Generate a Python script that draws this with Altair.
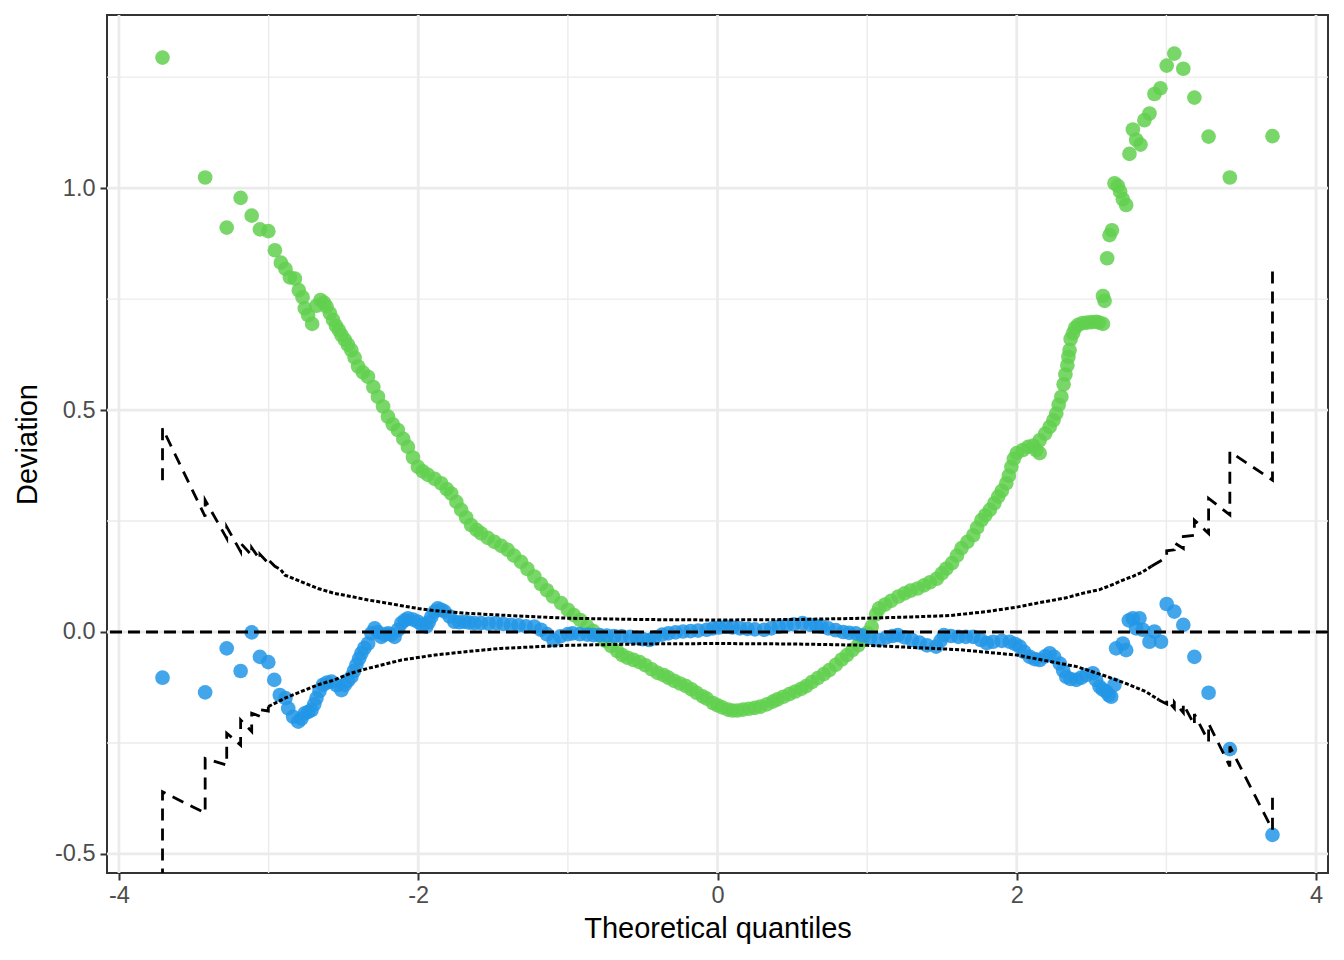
import altair as alt
import pandas as pd

# ---------------- data ----------------
green_x = [-3.709, -3.424, -3.28, -3.187, -3.113, -3.058, -3.002, -2.958, -2.918, -2.887,
           -2.858, -2.824, -2.798, -2.773, -2.758, -2.736, -2.709, -2.68, -2.653, -2.63,
           -2.613, -2.59, -2.569, -2.55, -2.53, -2.513, -2.49, -2.47, -2.447, -2.425,
           -2.402, -2.37, -2.336, -2.30, -2.269, -2.235, -2.202, -2.17, -2.136, -2.10,
           -2.069, -2.035, -2.002, -1.97, -1.935, -1.89, -1.847, -1.81, -1.78, -1.745,
           -1.713, -1.68, -1.647, -1.61, -1.58, -1.535, -1.491, -1.445, -1.402, -1.36,
           -1.313, -1.27, -1.224, -1.18, -1.14, -1.10, -1.045, -1.0, -0.96, -0.917,
           -0.87, -0.83, -0.789, -0.75, -0.71, -0.67, -0.636, -0.60, -0.56, -0.52,
           -0.481, -0.44, -0.40, -0.36, -0.328, -0.29, -0.25, -0.21, -0.174, -0.14,
           -0.10, -0.072, -0.03, 0.0, 0.031, 0.07, 0.10, 0.133, 0.17, 0.21,
           0.25, 0.287, 0.33, 0.37, 0.40, 0.44, 0.48, 0.52, 0.56, 0.593,
           0.63, 0.67, 0.71, 0.747, 0.79, 0.83, 0.865, 0.901, 0.94, 0.97,
           1.0, 1.03, 1.06, 1.08, 1.12, 1.16, 1.209, 1.25, 1.29, 1.337,
           1.38, 1.42, 1.465, 1.50, 1.53, 1.567, 1.60, 1.631, 1.67, 1.709,
           1.735, 1.764, 1.79, 1.82, 1.85, 1.876, 1.90, 1.93, 1.947, 1.964,
           1.98, 2.0, 2.04, 2.076, 2.11, 2.13, 2.153, 2.153, 2.19, 2.22,
           2.245, 2.264, 2.28, 2.298, 2.313, 2.325, 2.338, 2.345, 2.353, 2.36,
           2.376, 2.39, 2.41, 2.44, 2.47, 2.50, 2.53, 2.55, 2.576, 2.576,
           2.587, 2.604, 2.62, 2.636, 2.653, 2.676, 2.691, 2.709, 2.731, 2.753,
           2.776, 2.798, 2.827, 2.853, 2.887, 2.92, 2.96, 3.002, 3.053, 3.113,
           3.187, 3.282, 3.424, 3.709]
green_y = [1.294, 1.024, 0.911, 0.978, 0.938, 0.907, 0.903, 0.860, 0.832, 0.818,
           0.799, 0.796, 0.770, 0.754, 0.729, 0.714, 0.694, 0.735, 0.748, 0.742,
           0.733, 0.718, 0.703, 0.690, 0.680, 0.669, 0.658, 0.647, 0.635, 0.618,
           0.598, 0.585, 0.575, 0.552, 0.530, 0.508, 0.485, 0.468, 0.455, 0.435,
           0.417, 0.393, 0.372, 0.362, 0.354, 0.345, 0.335, 0.322, 0.312, 0.293,
           0.275, 0.258, 0.241, 0.230, 0.222, 0.212, 0.203, 0.194, 0.185, 0.172,
           0.158, 0.142, 0.125, 0.108, 0.094, 0.080, 0.065, 0.050, 0.038, 0.027,
           0.012, 0.002, -0.008, -0.020, -0.032, -0.043, -0.052, -0.058, -0.063, -0.068,
           -0.075, -0.084, -0.092, -0.097, -0.103, -0.110, -0.116, -0.122, -0.129, -0.137,
           -0.145, -0.150, -0.160, -0.165, -0.170, -0.175, -0.177, -0.177, -0.175, -0.173,
           -0.171, -0.168, -0.163, -0.157, -0.152, -0.146, -0.140, -0.134, -0.128, -0.122,
           -0.113, -0.104, -0.095, -0.086, -0.074, -0.062, -0.052, -0.041, -0.030, -0.015,
           -0.002, 0.012, 0.040, 0.053, 0.062, 0.070, 0.080, 0.087, 0.093, 0.098,
           0.105, 0.112, 0.120, 0.132, 0.143, 0.155, 0.172, 0.189, 0.203, 0.218,
           0.235, 0.252, 0.263, 0.275, 0.290, 0.305, 0.318, 0.335, 0.352, 0.372,
           0.390, 0.403, 0.410, 0.417, 0.420, 0.410, 0.403, 0.432, 0.447, 0.462,
           0.477, 0.492, 0.512, 0.530, 0.558, 0.580, 0.601, 0.620, 0.635, 0.660,
           0.673, 0.685, 0.692, 0.696, 0.697, 0.698, 0.699, 0.697, 0.694, 0.757,
           0.746, 0.842, 0.894, 0.905, 1.011, 1.005, 0.992, 0.975, 0.962, 1.077,
           1.132, 1.109, 1.098, 1.153, 1.168, 1.212, 1.225, 1.276, 1.303, 1.269,
           1.204, 1.116, 1.024, 1.117]

blue_x = [-3.709, -3.424, -3.28, -3.187, -3.113, -3.058, -3.002, -2.962, -2.925, -2.887,
          -2.869, -2.836, -2.802, -2.78, -2.758, -2.735, -2.713, -2.695, -2.68, -2.66,
          -2.636, -2.61, -2.58, -2.545, -2.513, -2.491, -2.47, -2.447, -2.43, -2.413,
          -2.395, -2.38, -2.36, -2.335, -2.313, -2.291, -2.27, -2.247, -2.225, -2.202,
          -2.18, -2.158, -2.135, -2.113, -2.09, -2.069, -2.035, -2.002, -1.975, -1.947,
          -1.93, -1.913, -1.89, -1.869, -1.846, -1.824, -1.79, -1.758, -1.725, -1.691,
          -1.66, -1.624, -1.58, -1.53, -1.48, -1.43, -1.38, -1.33, -1.28, -1.224,
          -1.18, -1.14, -1.096, -1.05, -1.0, -0.968, -0.92, -0.87, -0.83, -0.789,
          -0.74, -0.69, -0.64, -0.584, -0.54, -0.50, -0.456, -0.42, -0.37, -0.328,
          -0.28, -0.23, -0.18, -0.13, -0.072, -0.03, 0.01, 0.056, 0.10, 0.15,
          0.20, 0.25, 0.312, 0.36, 0.41, 0.46, 0.51, 0.568, 0.62, 0.66,
          0.696, 0.74, 0.79, 0.84, 0.88, 0.924, 0.97, 1.02, 1.077, 1.13,
          1.17, 1.205, 1.25, 1.30, 1.35, 1.40, 1.461, 1.49, 1.513, 1.56,
          1.61, 1.66, 1.709, 1.76, 1.80, 1.842, 1.90, 1.953, 1.99, 2.02,
          2.05, 2.087, 2.12, 2.153, 2.19, 2.22, 2.25, 2.287, 2.31, 2.331,
          2.36, 2.398, 2.43, 2.465, 2.509, 2.53, 2.553, 2.575, 2.598, 2.615,
          2.631, 2.653, 2.664, 2.709, 2.731, 2.749, 2.776, 2.798, 2.82, 2.842,
          2.887, 2.92, 2.964, 3.002, 3.053, 3.113, 3.187, 3.282, 3.424, 3.709]
blue_y = [-0.103, -0.136, -0.037, -0.088, -0.001, -0.056, -0.068, -0.108, -0.142, -0.149,
          -0.172, -0.191, -0.202, -0.195, -0.183, -0.180, -0.176, -0.163, -0.149, -0.133,
          -0.119, -0.114, -0.112, -0.120, -0.131, -0.119, -0.110, -0.101, -0.088, -0.074,
          -0.060, -0.048, -0.036, -0.026, -0.003, 0.008, 0.000, -0.011, -0.006, -0.003,
          -0.006, -0.011, 0.005, 0.020, 0.026, 0.031, 0.028, 0.023, 0.016, 0.012,
          0.022, 0.034, 0.046, 0.053, 0.050, 0.046, 0.035, 0.023, 0.022, 0.023,
          0.021, 0.020, 0.020, 0.019, 0.020, 0.018, 0.016, 0.015, 0.013, 0.012,
          0.005, -0.005, -0.018, -0.010, -0.005, -0.003, -0.005, -0.006, -0.007, -0.007,
          -0.008, -0.009, -0.010, -0.011, -0.013, -0.016, -0.018, -0.012, -0.006, -0.003,
          -0.001, 0.001, 0.002, 0.003, 0.005, 0.008, 0.010, 0.012, 0.010, 0.008,
          0.007, 0.006, 0.005, 0.008, 0.012, 0.015, 0.017, 0.020, 0.016, 0.014,
          0.012, 0.008, 0.004, 0.000, -0.002, -0.003, -0.008, -0.013, -0.018, -0.012,
          -0.009, -0.007, -0.012, -0.018, -0.024, -0.030, -0.033, -0.020, -0.007, -0.009,
          -0.011, -0.011, -0.011, -0.018, -0.025, -0.022, -0.020, -0.022, -0.027, -0.033,
          -0.045, -0.056, -0.061, -0.063, -0.055, -0.048, -0.056, -0.071, -0.087, -0.101,
          -0.106, -0.108, -0.103, -0.097, -0.093, -0.108, -0.123, -0.130, -0.134, -0.142,
          -0.146, -0.119, -0.037, -0.026, -0.041, 0.026, 0.031, 0.008, 0.031, 0.005,
          -0.022, 0.001, -0.022, 0.063, 0.046, 0.016, -0.056, -0.137, -0.264, -0.457]

# envelope paths (theoretical quantile, deviation), in drawing order
upper_x = [-3.709, -3.709, -3.424, -3.424, -3.28, -3.28, -3.187, -3.187, -3.113, -3.113,
           -3.058, -3.058, -3.002, -3.002, -2.958, -2.918, -2.89, -2.78, -2.67, -2.56,
           -2.45, -2.335, -2.225, -2.11, -2.0, -1.89, -1.67, -1.45, -1.2, -1.0,
           -0.5, 0.0, 0.5, 1.0, 1.3, 1.553, 1.8, 2.0, 2.15, 2.33,
           2.45, 2.55, 2.65, 2.71, 2.78, 2.84, 2.9, 2.96, 3.002, 3.002,
           3.053, 3.053, 3.113, 3.113, 3.187, 3.187, 3.282, 3.282, 3.424, 3.424,
           3.709, 3.709]
upper_y = [0.342, 0.459, 0.260, 0.297, 0.211, 0.237, 0.181, 0.200, 0.173, 0.190,
           0.163, 0.175, 0.155, 0.163, 0.148, 0.140, 0.128, 0.113, 0.098, 0.087,
           0.080, 0.072, 0.066, 0.059, 0.053, 0.048, 0.042, 0.038, 0.034, 0.031,
           0.028, 0.027, 0.028, 0.031, 0.034, 0.037, 0.046, 0.056, 0.066, 0.077,
           0.088, 0.095, 0.108, 0.117, 0.126, 0.135, 0.148, 0.160, 0.170, 0.183,
           0.185, 0.201, 0.188, 0.215, 0.218, 0.252, 0.222, 0.301, 0.264, 0.406,
           0.342, 0.827]
lower_x = [-3.709, -3.709, -3.424, -3.424, -3.28, -3.28, -3.187, -3.187, -3.113, -3.113,
           -3.058, -3.058, -3.002, -3.002, -2.89, -2.78, -2.67, -2.56, -2.45, -2.335,
           -2.11, -1.89, -1.67, -1.45, -1.0, -0.5, 0.0, 0.5, 1.0, 1.62,
           2.0, 2.4, 2.6, 2.73, 2.86, 2.95, 3.002, 3.002, 3.053, 3.053,
           3.113, 3.113, 3.187, 3.187, 3.282, 3.282, 3.424, 3.424, 3.709, 3.709]
lower_y = [-0.650, -0.360, -0.408, -0.285, -0.300, -0.228, -0.255, -0.198, -0.224, -0.183,
           -0.190, -0.175, -0.178, -0.168, -0.149, -0.134, -0.119, -0.108, -0.093, -0.082,
           -0.063, -0.052, -0.044, -0.037, -0.030, -0.027, -0.026, -0.027, -0.030, -0.040,
           -0.052, -0.078, -0.100, -0.116, -0.134, -0.153, -0.162, -0.152, -0.172, -0.158,
           -0.182, -0.162, -0.210, -0.185, -0.247, -0.206, -0.303, -0.258, -0.446, -0.371]

x_major = [-4, -2, 0, 2, 4]
x_minor = [-3, -1, 1, 3]
y_major = [-0.5, 0.0, 0.5, 1.0]
y_minor = [-0.25, 0.25, 0.75, 1.25]
zero_line = [0.0]

GREEN = "#61D04F"
BLUE = "#2297E6"
FONT = "Liberation Sans"

# ---------------- tables ----------------
pts = pd.DataFrame({
    "x": green_x + blue_x,
    "y": green_y + blue_y,
    "group": ["green"] * len(green_x) + ["blue"] * len(blue_x),
})


def pieces(xs, ys, name):
    n = len(xs)
    li = max(i for i in range(n) if xs[i] <= -2.9)
    ri = min(i for i in range(n) if xs[i] >= 2.9)
    rows = []
    for seg, kind, idx in [(name + "_L", "tail", range(0, li + 1)),
                           (name + "_M", "mid", range(li, ri + 1)),
                           (name + "_R", "tail", range(ri, n))]:
        for k, i in enumerate(idx):
            rows.append({"x": xs[i], "y": ys[i], "seg": seg, "kind": kind, "order": k})
    return rows


env = pd.DataFrame(pieces(upper_x, upper_y, "upper") + pieces(lower_x, lower_y, "lower"))

# ---------------- scales / axes ----------------
xscale = alt.Scale(domain=[-4.08, 4.08], nice=False, zero=False)
yscale = alt.Scale(domain=[-0.543, 1.39], nice=False, zero=False)

xaxis = alt.Axis(values=x_major, grid=False, domain=False, tickColor="#333333", tickWidth=2,
                 tickSize=7, labelFont=FONT, labelFontSize=23.5, labelColor="#4D4D4D",
                 labelPadding=3, labelExpr="replace(format(datum.value, 'd'), '\u2212', '-')",
                 title="Theoretical quantiles", titleFont=FONT, titleFontSize=29,
                 titleFontWeight="normal", titleColor="#000000", titlePadding=8)
yaxis = alt.Axis(values=y_major, grid=False, domain=False, tickColor="#333333", tickWidth=2,
                 tickSize=7, labelFont=FONT, labelFontSize=23.5, labelColor="#4D4D4D",
                 labelPadding=5, labelExpr="replace(format(datum.value, '.1f'), '\u2212', '-')",
                 title="Deviation", titleFont=FONT, titleFontSize=29,
                 titleFontWeight="normal", titleColor="#000000", titlePadding=12)

X = alt.X("x:Q", scale=xscale, axis=xaxis)
Y = alt.Y("y:Q", scale=yscale, axis=yaxis)

grid_xmaj = alt.Chart(pd.DataFrame({"x": x_major})).mark_rule(color="#EBEBEB", strokeWidth=2.8).encode(x=X)
grid_xmin = alt.Chart(pd.DataFrame({"x": x_minor})).mark_rule(color="#EBEBEB", strokeWidth=1.4).encode(x=X)
grid_ymaj = alt.Chart(pd.DataFrame({"y": y_major})).mark_rule(color="#EBEBEB", strokeWidth=2.8).encode(y=Y)
grid_ymin = alt.Chart(pd.DataFrame({"y": y_minor})).mark_rule(color="#EBEBEB", strokeWidth=1.4).encode(y=Y)

points = alt.Chart(pts).mark_circle(size=215, opacity=0.85, clip=True).encode(
    x=X, y=Y,
    color=alt.Color("group:N", scale=alt.Scale(domain=["green", "blue"], range=[GREEN, BLUE]), legend=None),
)

zero = alt.Chart(pd.DataFrame({"y": zero_line})).mark_rule(
    color="black", strokeWidth=2.8, strokeDash=[12, 6]).encode(y=Y)

env_tail = alt.Chart(env[env["kind"] == "tail"]).mark_line(
    color="black", strokeWidth=2.8, strokeDash=[12, 8], clip=True).encode(
    x=X, y=Y, detail="seg:N", order="order:Q")
env_mid = alt.Chart(env[env["kind"] == "mid"]).mark_line(
    color="black", strokeWidth=3.0, strokeDash=[4, 2], clip=True).encode(
    x=X, y=Y, detail="seg:N", order="order:Q")

chart = alt.layer(grid_ymin, grid_xmin, grid_ymaj, grid_xmaj, points, zero, env_mid, env_tail).properties(
    width=1221, height=858,
    autosize=alt.AutoSizeParams(type="none"),
    padding={"left": 99, "top": 7, "right": 8, "bottom": 80},
    background="white",
).configure_view(stroke="#333333", strokeWidth=2)

chart.save("out.html", embed_options={"renderer": "svg", "actions": False})
